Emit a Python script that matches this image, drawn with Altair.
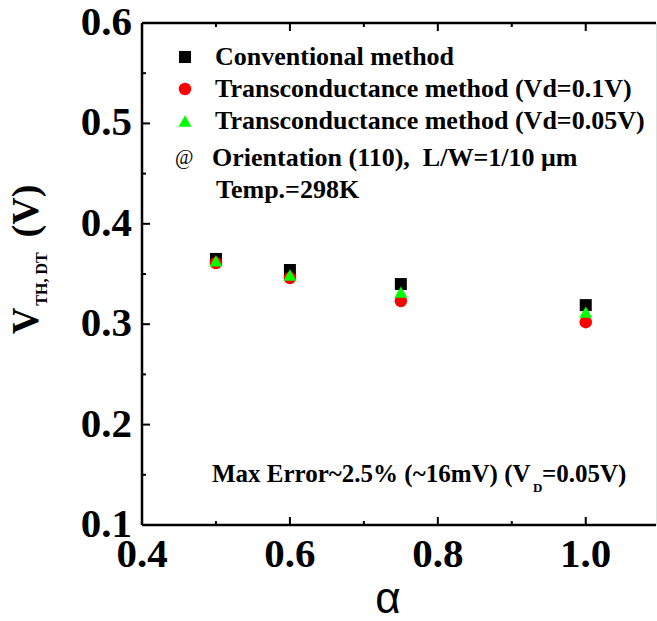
import altair as alt
import pandas as pd

# ---- data ----
alpha = [0.5, 0.6, 0.75, 1.0]
conventional = [0.365, 0.354, 0.340, 0.319]
tc_vd01 = [0.361, 0.346, 0.323, 0.302]
tc_vd005 = [0.363, 0.349, 0.332, 0.312]

series_names = [
    "Conventional method",
    "Transconductance method (Vd=0.1V)",
    "Transconductance method (Vd=0.05V)",
]
series_colors = ["#000000", "#ff0000", "#00ff00"]
series_shapes = ["square", "circle", "triangle-up"]
series_sizes = [144, 169, 240]

x_major = [0.4, 0.6, 0.8, 1.0]
x_minor = [0.5, 0.7, 0.9]
y_major = [0.1, 0.2, 0.3, 0.4, 0.5, 0.6]
y_minor = [0.15, 0.25, 0.35, 0.45, 0.55]

rows = []
for name, vals in zip(series_names, [conventional, tc_vd01, tc_vd005]):
    for a, v in zip(alpha, vals):
        rows.append({"alpha": a, "vth": v, "series": name})
df = pd.DataFrame(rows)

W, H = 514, 502
SERIF = "Liberation Serif"

xscale = alt.Scale(domain=[0.4, 1.095], nice=False, zero=False)
yscale = alt.Scale(domain=[0.1, 0.6], nice=False, zero=False)

points = alt.Chart(df).mark_point(filled=True, opacity=1, strokeWidth=0).encode(
    x=alt.X("alpha:Q", scale=xscale, axis=None),
    y=alt.Y("vth:Q", scale=yscale, axis=None),
    color=alt.Color("series:N",
                    scale=alt.Scale(domain=series_names, range=series_colors),
                    legend=alt.Legend(title=None, orient="none", legendX=30, legendY=21,
                                      labelFont=SERIF, labelFontWeight="bold",
                                      labelFontSize=26, labelColor="black",
                                      labelLimit=0, labelOffset=17, symbolSize=180,
                                      symbolStrokeWidth=0, rowPadding=6, padding=0)),
    shape=alt.Shape("series:N",
                    scale=alt.Scale(domain=series_names, range=series_shapes)),
    size=alt.Size("series:N",
                  scale=alt.Scale(domain=series_names, range=series_sizes),
                  legend=None),
    order=alt.Order("ord:Q"),
).transform_calculate(
    ord="indexof(['" + "','".join(series_names) + "'], datum.series)"
)


def xticks(values, length, top):
    d = pd.DataFrame({"v": values})
    y0, y1 = (0, length) if top else (H, H - length)
    return alt.Chart(d).mark_rule(color="black", strokeWidth=2).encode(
        x=alt.X("v:Q", scale=xscale, axis=None),
        y=alt.value(y0), y2=alt.value(y1))


def yticks(values, length):
    d = pd.DataFrame({"v": values})
    return alt.Chart(d).mark_rule(color="black", strokeWidth=2).encode(
        y=alt.Y("v:Q", scale=yscale, axis=None),
        x=alt.value(0), x2=alt.value(length))


xlabels = alt.Chart(pd.DataFrame({"v": x_major})).mark_text(
    font=SERIF, fontSize=41, fontWeight="bold", color="black",
    align="center", baseline="top"
).encode(x=alt.X("v:Q", scale=xscale, axis=None), y=alt.value(H + 10),
         text=alt.Text("v:Q", format=".1f"))

ylabels = alt.Chart(pd.DataFrame({"v": y_major})).mark_text(
    font=SERIF, fontSize=41, fontWeight="bold", color="black",
    align="right", baseline="middle"
).encode(y=alt.Y("v:Q", scale=yscale, axis=None), x=alt.value(-10),
         text=alt.Text("v:Q", format=".1f"))

one = alt.Data(values=[{}])
frame = [
    alt.Chart(one).mark_rule(color="black", strokeWidth=2.5).encode(
        x=alt.value(0), x2=alt.value(W), y=alt.value(0)),
    alt.Chart(one).mark_rule(color="black", strokeWidth=2.5).encode(
        x=alt.value(0), x2=alt.value(W), y=alt.value(H)),
    alt.Chart(one).mark_rule(color="black", strokeWidth=2.5).encode(
        x=alt.value(0), y=alt.value(0), y2=alt.value(H)),
]


def txt(text, x, y, size=26, weight="bold", font=SERIF, angle=0, align="left"):
    return alt.Chart(one).mark_text(
        text=text, font=font, fontSize=size, fontWeight=weight, color="black",
        align=align, baseline="alphabetic", angle=angle
    ).encode(x=alt.value(x), y=alt.value(y))


texts = [
    txt("@", 33, 141, size=20, weight="normal"),
    txt("Orientation (110),\u00a0 L/W=1/10 \u03bcm", 70, 143),
    txt("Temp.=298K", 74, 175),
    txt("Max Error~2.5% (~16mV) (V", 70, 459, size=25),
    txt("D", 391, 469, size=13),
    txt("=0.05V)", 400, 459, size=25),
    # y axis title
    txt("V", -104, 298, size=37, angle=270, align="center"),
    txt("TH, DT", -95, 256, size=16, angle=270, align="center"),
    txt("(V)", -104, 188, size=38, angle=270, align="center"),
    # x axis title
    txt("\u03b1", 246, 590, size=44, weight="normal", font="Liberation Sans",
        align="center"),
]

chart = alt.layer(
    points,
    xticks(x_major, 8, False), xticks(x_minor, 4, False),
    xticks(x_major, 8, True), xticks(x_minor, 4, True),
    yticks(y_major, 8), yticks(y_minor, 4),
    *frame,
    xlabels, ylabels,
    *texts,
).properties(
    width=W, height=H,
    autosize=alt.AutoSizeParams(type="none"),
    padding={"left": 142, "top": 23, "right": 1, "bottom": 96},
).configure_view(stroke=None).configure(background="white")

chart.save("out.html", embed_options={"renderer": "svg", "actions": False})
